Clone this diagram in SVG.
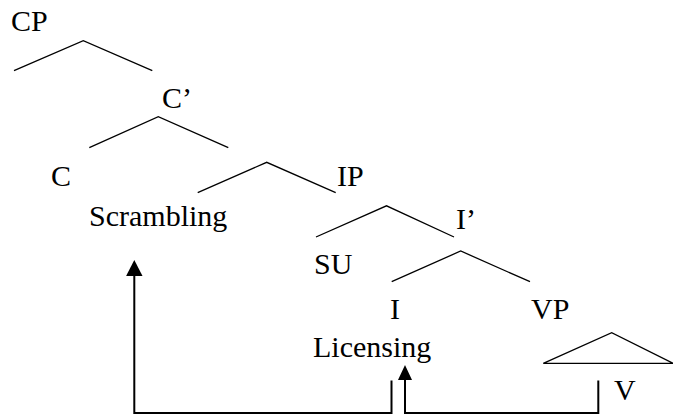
<svg xmlns="http://www.w3.org/2000/svg" width="673" height="418" viewBox="0 0 673 418">
<style>
text{font-family:'Liberation Serif','Times New Roman',serif;font-size:30px;fill:#000}
.br{fill:none;stroke:#000;stroke-width:1.3}
.cn{fill:none;stroke:#000;stroke-width:2}
.ah{fill:#000}
</style>
<rect width="673" height="418" fill="#fff"/>
<g id="CP"><text x="11" y="31">CP</text></g>
<g id="Cbar"><text x="162" y="108">C’</text></g>
<g id="C"><text x="51" y="186">C</text></g>
<g id="IP"><text x="337" y="186">IP</text></g>
<g id="Scrambling"><text x="89" y="226">Scrambling</text></g>
<g id="Ibar"><text x="456" y="229">I’</text></g>
<g id="SU"><text x="314" y="274">SU</text></g>
<g id="I"><text x="390" y="319">I</text></g>
<g id="VP"><text x="531" y="319">VP</text></g>
<g id="Licensing"><text x="313" y="357">Licensing</text></g>
<g id="V"><text x="614" y="400">V</text></g>
<g id="branches">
<polyline class="br" points="14,70.7 83.3,40.7 152.3,70.7"/>
<polyline class="br" points="89.3,147.7 158.3,116.7 228.3,147.7"/>
<polyline class="br" points="197.7,192.7 266.7,162.3 335.7,192.7"/>
<polyline class="br" points="316,237 386.5,205.8 454,237"/>
<polyline class="br" points="391.7,281.7 460.7,251 530,281.7"/>
<polygon class="br" points="543.3,363.3 611.7,332.7 673.3,363.3"/>
</g>
<g id="connectors">
<polyline class="cn" points="134.3,276 134.3,413 391.5,413 391.5,380.5"/>
<path class="ah" d="M134.3,260 L142.5,276 L126.1,276 Z"/>
<polyline class="cn" points="405,379 405,413 598.3,413 598.3,380.5"/>
<path class="ah" d="M405,365 L412,380 L398,380 Z"/>
</g>
</svg>
